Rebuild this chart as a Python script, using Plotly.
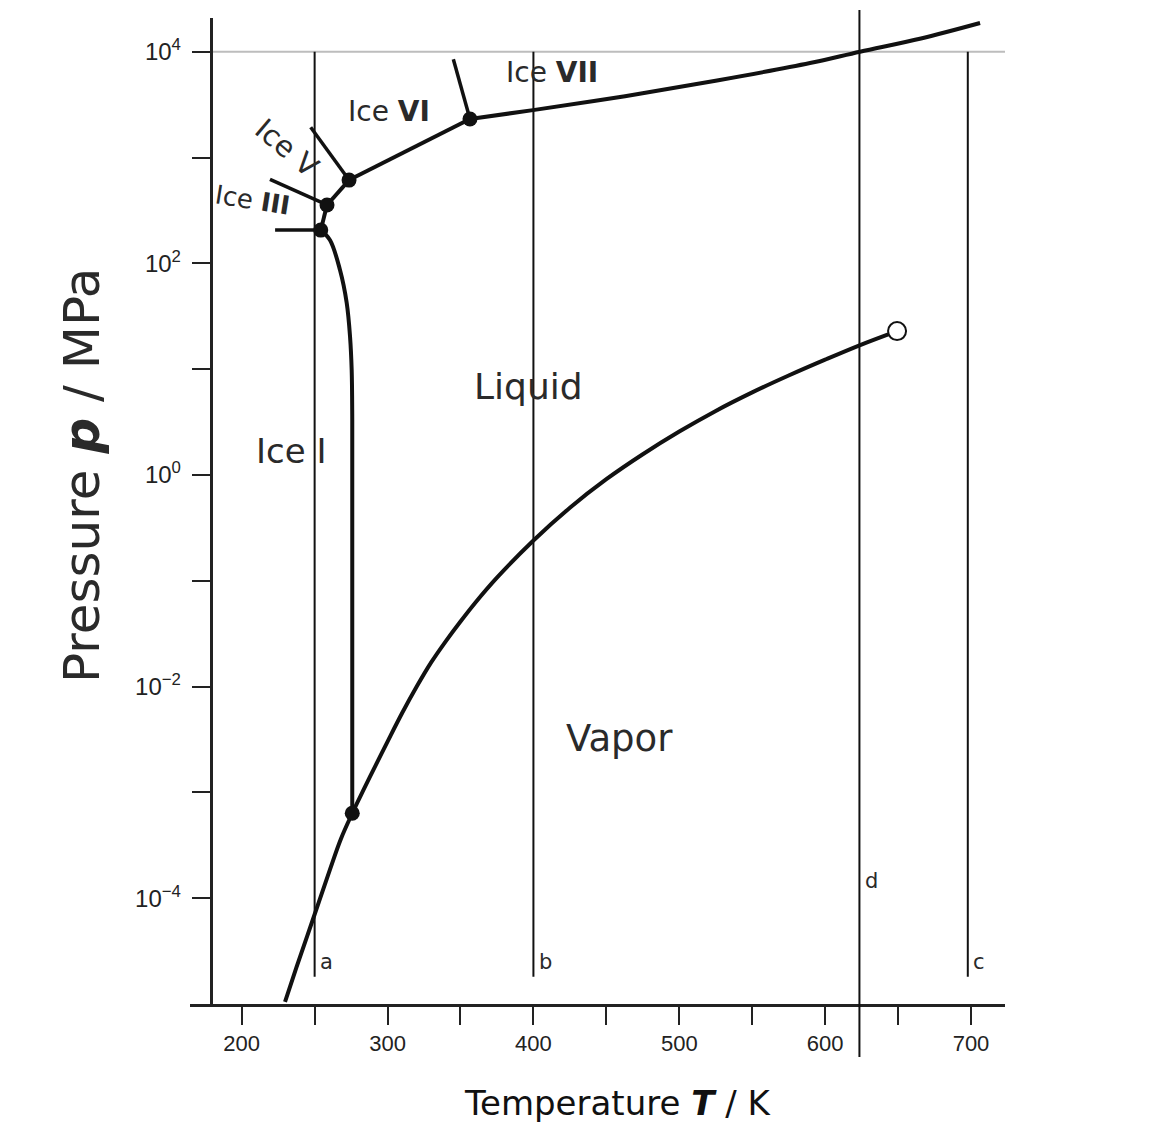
import plotly.graph_objects as go

# ---------------- data (T in K, p in MPa) ----------------
# Ice I / liquid melting curve
melt_T = [254.2, 260.5, 267.4, 272.0, 274.3, 275.4, 275.8, 275.8]
melt_p = [206, 166, 86.5, 42.2, 20.1, 9.8, 3.3, 6.3e-4]

# Sublimation + vaporization curve (ice I/vapor, liquid/vapor)
vap_T = [229.7, 237.7, 249.1, 260.5, 268.0, 275.8, 283.0, 292.0, 300.0, 310.0,
         320.0, 330.0, 340.0, 350.0, 360.0, 375.0, 400.0, 425.0, 450.0, 475.0,
         500.0, 525.0, 550.0, 575.0, 600.0, 624.0, 649.3]
vap_p = [1.05e-5, 2.25e-5, 6.46e-5, 1.86e-4, 3.63e-4, 6.34e-4, 1.02e-3, 1.82e-3,
         3.02e-3, 5.62e-3, 0.0100, 0.0170, 0.0269, 0.0412, 0.0617, 0.107, 0.240,
         0.490, 0.912, 1.57, 2.57, 4.03, 6.03, 8.71, 12.3, 16.9, 22.9]

# High-pressure solid/liquid boundaries
ice3_liq_T = [254.2, 258.5]
ice3_liq_p = [206, 356]
ice5_liq_T = [258.5, 273.6]
ice5_liq_p = [356, 612]
ice6_liq_T = [273.6, 356.5]
ice6_liq_p = [612, 2312]
ice7_liq_T = [356.5, 399.7, 462.8, 525.9, 589.6, 623.9, 665.7, 706.2]
ice7_liq_p = [2312, 2805, 3800, 5350, 7810, 10000, 13330, 18660]

# Solid/solid boundaries
ice1_3_T = [222.9, 254.2]
ice1_3_p = [206, 206]
ice3_5_T = [219.4, 258.5]
ice3_5_p = [622, 356]
ice5_6_T = [247.3, 273.6]
ice5_6_p = [1928, 612]
ice6_7_T = [345.1, 356.5]
ice6_7_p = [8470, 2312]

# Triple points and critical point
triple_T = [254.2, 258.5, 273.6, 356.5, 275.8]
triple_p = [206, 356, 612, 2312, 6.34e-4]
crit_T = [649.3]
crit_p = [22.9]

# Isotherms a, b, c, d
iso_T = {"a": 250.0, "b": 400.0, "c": 697.8}
iso_p_top = 1e4
iso_p_bottom = 1.81e-5
iso_d_T = 623.5

# Axis ticks
x_tickvals = [200, 250, 300, 350, 400, 450, 500, 550, 600, 650, 700]
x_ticktext = ["200", "", "300", "", "400", "", "500", "", "600", "", "700"]
y_tickvals = [1e-4, 1e-3, 1e-2, 1e-1, 1e0, 1e1, 1e2, 1e3, 1e4]
y_ticktext = ["10<sup>−4</sup>", "", "10<sup>−2</sup>", "", "10<sup>0</sup>", "",
              "10<sup>2</sup>", "", "10<sup>4</sup>"]

x_range = [164.56, 723.3]
y_range_log = [-5.0, 4.3185]
y_axis_T = 178.6

# ---------------- figure ----------------
fig = go.Figure()
BLACK = "#111111"
curve_w = 4

# Gray line at 10^4
fig.add_trace(go.Scatter(x=[y_axis_T, x_range[1]], y=[1e4, 1e4], mode="lines",
                         line=dict(color="#bdbdbd", width=2), hoverinfo="skip"))

# Isotherm lines a, b, c
for k, T in iso_T.items():
    fig.add_trace(go.Scatter(x=[T, T], y=[iso_p_top, iso_p_bottom], mode="lines",
                             line=dict(color=BLACK, width=2), hoverinfo="skip"))

def add_line(xs, ys, shape="linear", w=curve_w):
    fig.add_trace(go.Scatter(x=xs, y=ys, mode="lines",
                             line=dict(color=BLACK, width=w, shape=shape),
                             hoverinfo="skip"))

add_line(vap_T, vap_p, shape="spline")
add_line(melt_T, melt_p, shape="spline")
add_line(ice3_liq_T, ice3_liq_p)
add_line(ice5_liq_T, ice5_liq_p)
add_line(ice6_liq_T, ice6_liq_p)
add_line(ice7_liq_T, ice7_liq_p, shape="spline")
add_line(ice1_3_T, ice1_3_p, w=3.5)
add_line(ice3_5_T, ice3_5_p, w=3.5)
add_line(ice5_6_T, ice5_6_p, w=3.5)
add_line(ice6_7_T, ice6_7_p, w=3.5)

fig.add_trace(go.Scatter(x=triple_T, y=triple_p, mode="markers",
                         marker=dict(color=BLACK, size=15), hoverinfo="skip"))
fig.add_trace(go.Scatter(x=crit_T, y=crit_p, mode="markers",
                         marker=dict(color="white", size=18,
                                     line=dict(color=BLACK, width=2)),
                         hoverinfo="skip", cliponaxis=False))

# Isotherm d extends beyond the plot area
fig.add_shape(type="line", xref="x", yref="paper", x0=iso_d_T, x1=iso_d_T,
              y0=-0.0538, y1=1.0081, line=dict(color=BLACK, width=2))

LABEL_FONT = "DejaVu Sans, Verdana, sans-serif"
TXT = "#2a2a2a"

def label(text, T, logp, size, angle=0, xanchor="center"):
    fig.add_annotation(x=T, y=logp, xref="x", yref="y", text=text, showarrow=False,
                       textangle=angle, xanchor=xanchor, yanchor="middle",
                       font=dict(family=LABEL_FONT, size=size, color=TXT))

label("Ice <b>VII</b>", 412.7, 3.808, 28)
label("Ice <b>VI</b>", 301.0, 3.439, 28)
label("Ice V", 231.1, 3.089, 29, angle=40)
label("Ice <b>III</b>", 207.1, 2.597, 26, angle=9)
label("Liquid", 396.3, 0.840, 36)
label("Ice I", 233.8, 0.225, 34)
label("Vapor", 459.3, -2.488, 37)

for name, T, logp in [("a", 252.5, -4.604), ("b", 402.5, -4.604),
                      ("c", 700.3, -4.604), ("d", 626.0, -3.838)]:
    label(name, T, logp, 21, xanchor="left")

# Axis titles
fig.add_annotation(x=0.524, y=-0.1004, xref="paper", yref="paper",
                   xanchor="center", yanchor="middle",
                   text="Temperature <b><i>T</i></b> / K", showarrow=False,
                   font=dict(family=LABEL_FONT, size=34, color=BLACK))
fig.add_annotation(x=-0.1325, y=0.5365, xref="paper", yref="paper",
                   xanchor="center", yanchor="middle",
                   text="Pressure <b><i>p</i></b> / MPa", showarrow=False, textangle=-90,
                   font=dict(family=LABEL_FONT, size=50, color=TXT))

fig.update_layout(
    width=1145, height=1116,
    margin=dict(l=182, r=148, t=10, b=120),
    plot_bgcolor="white", paper_bgcolor="white",
    showlegend=False,
    xaxis=dict(range=x_range, tickvals=x_tickvals, ticktext=x_ticktext,
               ticks="outside", ticklen=18, tickwidth=2, tickcolor="#222",
               showline=True, linewidth=2.5, linecolor="#222",
               showgrid=False, zeroline=False,
               tickfont=dict(family="Liberation Sans, Arial, sans-serif", size=22,
                             color="#222")),
    yaxis=dict(type="log", range=y_range_log, tickvals=y_tickvals, ticktext=y_ticktext,
               ticks="outside", ticklen=18, tickwidth=2, tickcolor="#222",
               showline=True, linewidth=2.5, linecolor="#222",
               showgrid=False, zeroline=False, anchor="free",
               position=(210.5 - 190) / 815, ticklabelstandoff=6,
               tickfont=dict(family="Liberation Sans, Arial, sans-serif", size=24,
                             color="#222")),
)

fig.write_html("out.html")
